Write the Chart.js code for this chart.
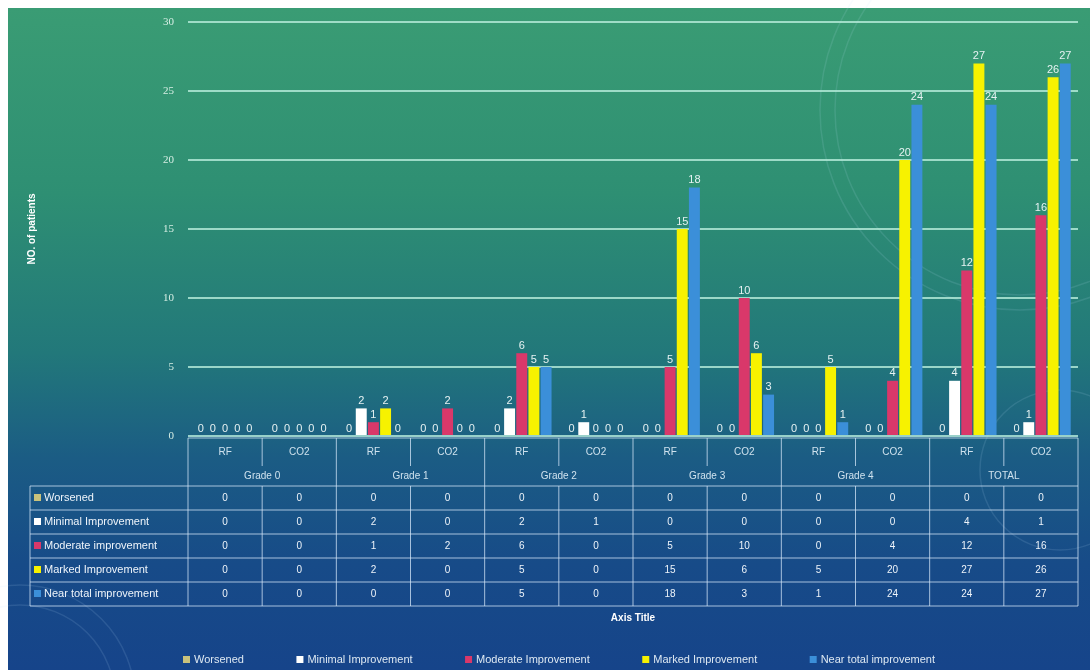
<!DOCTYPE html>
<html>
<head>
<meta charset="utf-8">
<script src="https://cdn.jsdelivr.net/npm/chart.js@4.4.1/dist/chart.umd.min.js"></script>
<style>
  html, body { margin: 0; padding: 0; background: #ffffff; }
  #wrap { position: relative; width: 1090px; height: 670px; }
  #bg {
    position: absolute; left: 8px; top: 8px; right: 0; bottom: 0;
    background: linear-gradient(180deg, #3a9c74 0%, #2e8f73 28%, #22787a 52%, #1b5c84 68%, #174b88 84%, #16448a 100%);
  }
  canvas { position: absolute; left: 0; top: 0; }
</style>
</head>
<body>
<div id="wrap">
  <div id="bg"></div>
  <canvas id="myChart" width="1090" height="670"></canvas>
</div>
<script>
const subLabels = ["RF", "CO2", "RF", "CO2", "RF", "CO2", "RF", "CO2", "RF", "CO2", "RF", "CO2"];
const groupLabels = ["Grade 0", "Grade 1", "Grade 2", "Grade 3", "Grade 4", "TOTAL"];
const seriesNames = ["Worsened", "Minimal Improvement", "Moderate improvement", "Marked Improvement", "Near total improvement"];
const legendNames = ["Worsened", "Minimal Improvement", "Moderate Improvement", "Marked Improvement", "Near total improvement"];
const seriesColors = ["#c9c27c", "#ffffff", "#d9386a", "#f7f200", "#3b8fd9"];

const worsened = [0, 0, 0, 0, 0, 0, 0, 0, 0, 0, 0, 0];
const minimal = [0, 0, 2, 0, 2, 1, 0, 0, 0, 0, 4, 1];
const moderate = [0, 0, 1, 2, 6, 0, 5, 10, 0, 4, 12, 16];
const marked = [0, 0, 2, 0, 5, 0, 15, 6, 5, 20, 27, 26];
const nearTotal = [0, 0, 0, 0, 5, 0, 18, 3, 1, 24, 24, 27];
const seriesValues = [worsened, minimal, moderate, marked, nearTotal];

const yTicks = [0, 5, 10, 15, 20, 25, 30];

// faint decorative rings of the slide background
const rings = {
  id: "rings",
  beforeDraw(chart) {
    const ctx = chart.ctx;
    ctx.save();
    ctx.strokeStyle = "rgba(200,230,255,0.12)";
    ctx.lineWidth = 1.5;
    [[20, 700, 95], [20, 700, 115], [1020, 110, 185], [1020, 110, 200], [1060, 470, 80]].forEach(([cx, cy, r]) => {
      ctx.beginPath();
      ctx.arc(cx, cy, r, 0, Math.PI * 2);
      ctx.stroke();
    });
    ctx.restore();
  },
};

// value labels above every bar
const barLabels = {
  id: "barLabels",
  afterDatasetsDraw(chart) {
    const ctx = chart.ctx;
    ctx.save();
    ctx.font = "11px 'Liberation Sans'";
    ctx.fillStyle = "#e6f2f2";
    ctx.textAlign = "center";
    ctx.textBaseline = "bottom";
    chart.data.datasets.forEach((ds, i) => {
      chart.getDatasetMeta(i).data.forEach((bar, j) => {
        ctx.fillText(ds.data[j], bar.x, bar.y - 2);
      });
    });
    ctx.restore();
  },
};

// data table under the plot, legend and axis title
const dataTable = {
  id: "dataTable",
  afterDraw(chart) {
    const ctx = chart.ctx;
    const x = chart.scales.x;
    const area = chart.chartArea;
    const colW = x.width / subLabels.length;
    const left = area.left;
    const right = area.right;
    const labelLeft = 30;
    const top = area.bottom + 2;
    const h1 = top + 28;
    const h2 = top + 48;
    const rowH = 24;
    const bottom = h2 + rowH * seriesValues.length;

    ctx.save();
    ctx.strokeStyle = "rgba(215,232,250,0.75)";
    ctx.lineWidth = 1;

    // horizontal lines
    ctx.beginPath();
    ctx.moveTo(left, top); ctx.lineTo(right, top);
    for (let r = 0; r <= seriesValues.length; r++) {
      const y = h2 + r * rowH;
      ctx.moveTo(labelLeft, y); ctx.lineTo(right, y);
    }
    // vertical lines
    ctx.moveTo(labelLeft, h2); ctx.lineTo(labelLeft, bottom);
    for (let c = 0; c <= subLabels.length; c++) {
      const vx = left + c * colW;
      const isGroupEdge = c % 2 === 0;
      ctx.moveTo(vx, top);
      ctx.lineTo(vx, isGroupEdge ? bottom : h1);
      if (!isGroupEdge) { ctx.moveTo(vx, h2); ctx.lineTo(vx, bottom); }
    }
    ctx.stroke();

    ctx.textAlign = "center";
    ctx.textBaseline = "middle";
    ctx.font = "10px 'Liberation Sans'";
    ctx.fillStyle = "#cfe2ee";
    subLabels.forEach((lab, i) => {
      ctx.fillText(lab, x.getPixelForValue(i), top + 14);
    });
    groupLabels.forEach((lab, g) => {
      const cx = (x.getPixelForValue(g * 2) + x.getPixelForValue(g * 2 + 1)) / 2;
      ctx.fillText(lab, cx, h1 + 10);
    });

    ctx.font = "10px 'Liberation Sans'";
    seriesValues.forEach((vals, r) => {
      const cy = h2 + r * rowH + rowH / 2;
      ctx.fillStyle = "#eef4fa";
      vals.forEach((v, i) => ctx.fillText(v, x.getPixelForValue(i), cy));
      ctx.fillStyle = seriesColors[r];
      ctx.fillRect(labelLeft + 4, cy - 4, 7, 7);
      ctx.fillStyle = "#eef4fa";
      ctx.textAlign = "left";
      ctx.font = "11px 'Liberation Sans'";
      ctx.fillText(seriesNames[r], labelLeft + 14, cy);
      ctx.font = "10px 'Liberation Sans'";
      ctx.textAlign = "center";
    });

    // x axis title
    ctx.font = "bold 10px 'Liberation Sans'";
    ctx.fillStyle = "#ffffff";
    ctx.fillText("Axis Title", (left + right) / 2, 618);

    // legend
    ctx.font = "11px 'Liberation Sans'";
    const widths = legendNames.map((n) => ctx.measureText(n).width + 12);
    const startX = 183, endX = 936;
    const gap = (endX - startX - widths.reduce((a, b) => a + b, 0)) / (legendNames.length - 1);
    let lx = startX;
    ctx.textAlign = "left";
    legendNames.forEach((n, i) => {
      ctx.fillStyle = seriesColors[i];
      ctx.fillRect(lx, 656, 7, 7);
      ctx.fillStyle = "#dde8f2";
      ctx.fillText(n, lx + 11, 660);
      lx += widths[i] + gap;
    });
    ctx.restore();
  },
};

const ctx = document.getElementById("myChart");
new Chart(ctx, {
  type: "bar",
  data: {
    labels: subLabels,
    datasets: seriesValues.map((vals, i) => ({
      label: seriesNames[i],
      data: vals,
      backgroundColor: seriesColors[i],
      borderWidth: 0,
      categoryPercentage: 0.82,
      barPercentage: 0.9,
    })),
  },
  options: {
    responsive: false,
    animation: false,
    layout: { padding: { top: 22, right: 12, bottom: 0, left: 0 } },
    plugins: {
      legend: { display: false },
      tooltip: { enabled: false },
    },
    scales: {
      x: {
        ticks: { display: false },
        grid: { display: false },
        border: { display: false },
        afterFit: (s) => { s.height = 670 - 436; },
      },
      y: {
        min: 0,
        max: 30,
        afterFit: (s) => { s.width = 188; },
        afterBuildTicks: (s) => { s.ticks = yTicks.map((v) => ({ value: v })); },
        ticks: {
          padding: 14,
          color: "#d6eee4",
          font: { family: "'Liberation Serif'", size: 11 },
        },
        grid: {
          color: "rgba(185,238,220,0.8)",
          lineWidth: 2,
          drawTicks: false,
        },
        border: { display: false },
        title: {
          display: true,
          text: "NO. of patients",
          color: "#ffffff",
          font: { family: "'Liberation Sans'", size: 10, weight: "bold" },
          padding: { top: 26, bottom: 0 },
        },
      },
    },
  },
  plugins: [rings, barLabels, dataTable],
});
</script>
</body>
</html>
